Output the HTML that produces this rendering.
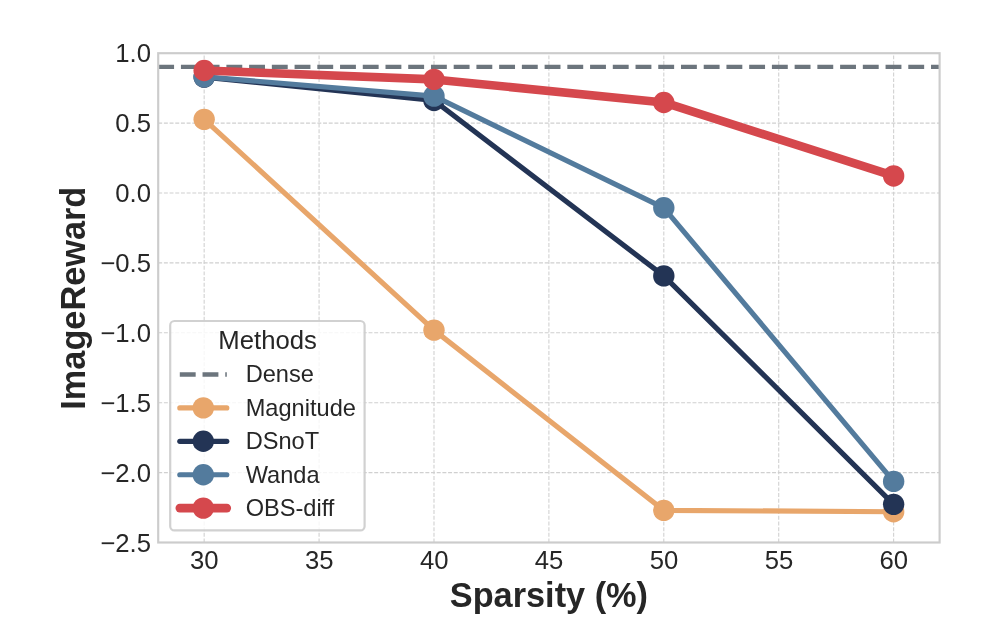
<!DOCTYPE html>
<html lang="en">
<head>
<meta charset="utf-8">
<title>ImageReward vs Sparsity</title>
<style>
html,body{margin:0;padding:0;background:#ffffff;}
body{width:986px;height:644px;overflow:hidden;}
svg{display:block;}
svg text{font-family:"Liberation Sans",Arial,Helvetica,sans-serif;fill:#262626;}
.tick{font-size:25.7px;}
.leg{font-size:23.6px;}
.legt{font-size:25.7px;}
.axl{font-size:34.3px;font-weight:bold;}
</style>
</head>
<body>
<svg width="986" height="644" viewBox="0 0 986 644">
<rect x="0" y="0" width="986" height="644" fill="#ffffff"/>
<g stroke="#d0d0d0" stroke-width="1.07" stroke-dasharray="3.968 1.716" fill="none">
<line x1="204.16" y1="542.50" x2="204.16" y2="53.20"/>
<line x1="319.08" y1="542.50" x2="319.08" y2="53.20"/>
<line x1="433.99" y1="542.50" x2="433.99" y2="53.20"/>
<line x1="548.90" y1="542.50" x2="548.90" y2="53.20"/>
<line x1="663.81" y1="542.50" x2="663.81" y2="53.20"/>
<line x1="778.72" y1="542.50" x2="778.72" y2="53.20"/>
<line x1="893.64" y1="542.50" x2="893.64" y2="53.20"/>
<line x1="158.20" y1="123.10" x2="939.60" y2="123.10"/>
<line x1="158.20" y1="193.00" x2="939.60" y2="193.00"/>
<line x1="158.20" y1="262.90" x2="939.60" y2="262.90"/>
<line x1="158.20" y1="332.80" x2="939.60" y2="332.80"/>
<line x1="158.20" y1="402.70" x2="939.60" y2="402.70"/>
<line x1="158.20" y1="472.60" x2="939.60" y2="472.60"/>
</g>
<line x1="158.20" y1="66.90" x2="939.60" y2="66.90" stroke="#6c757d" stroke-width="4.29" stroke-dasharray="15.87 6.86"/>
<g fill="#e8a66b" stroke="none">
<polyline points="204.16,119.33 433.99,330.14 663.81,510.35 893.64,511.74" fill="none" stroke="#e8a66b" stroke-width="5.15" stroke-linecap="round" stroke-linejoin="round"/>
<circle cx="204.16" cy="119.33" r="10.70"/>
<circle cx="433.99" cy="330.14" r="10.70"/>
<circle cx="663.81" cy="510.35" r="10.70"/>
<circle cx="893.64" cy="511.74" r="10.70"/>
</g>
<g fill="#233455" stroke="none">
<polyline points="204.16,77.11 433.99,100.45 663.81,275.90 893.64,504.33" fill="none" stroke="#233455" stroke-width="5.15" stroke-linecap="round" stroke-linejoin="round"/>
<circle cx="204.16" cy="77.11" r="10.70"/>
<circle cx="433.99" cy="100.45" r="10.70"/>
<circle cx="663.81" cy="275.90" r="10.70"/>
<circle cx="893.64" cy="504.33" r="10.70"/>
</g>
<g fill="#537b9d" stroke="none">
<polyline points="204.16,76.83 433.99,96.12 663.81,207.82 893.64,481.41" fill="none" stroke="#537b9d" stroke-width="5.15" stroke-linecap="round" stroke-linejoin="round"/>
<circle cx="204.16" cy="76.83" r="10.70"/>
<circle cx="433.99" cy="96.12" r="10.70"/>
<circle cx="663.81" cy="207.82" r="10.70"/>
<circle cx="893.64" cy="481.41" r="10.70"/>
</g>
<g fill="#d5484d" stroke="none">
<polyline points="204.16,70.54 433.99,79.40 663.81,102.45 893.64,175.94" fill="none" stroke="#d5484d" stroke-width="8.58" stroke-linecap="round" stroke-linejoin="round"/>
<circle cx="204.16" cy="70.54" r="10.70"/>
<circle cx="433.99" cy="79.40" r="10.70"/>
<circle cx="663.81" cy="102.45" r="10.70"/>
<circle cx="893.64" cy="175.94" r="10.70"/>
</g>
<rect x="158.20" y="53.20" width="781.40" height="489.30" fill="none" stroke="#cccccc" stroke-width="2.15"/>
<g class="tick" text-anchor="end">
<text x="151.0" y="62.45">1.0</text>
<text x="151.0" y="132.35">0.5</text>
<text x="151.0" y="202.25">0.0</text>
<text x="151.0" y="272.15">−0.5</text>
<text x="151.0" y="342.05">−1.0</text>
<text x="151.0" y="411.95">−1.5</text>
<text x="151.0" y="481.85">−2.0</text>
<text x="151.0" y="551.75">−2.5</text>
</g>
<g class="tick" text-anchor="middle">
<text x="204.36" y="568.6">30</text>
<text x="319.28" y="568.6">35</text>
<text x="434.19" y="568.6">40</text>
<text x="549.10" y="568.6">45</text>
<text x="664.01" y="568.6">50</text>
<text x="778.92" y="568.6">55</text>
<text x="893.84" y="568.6">60</text>
</g>
<text class="axl" text-anchor="middle" x="548.9" y="607.0">Sparsity (%)</text>
<text class="axl" text-anchor="middle" transform="translate(84.6 298.2) rotate(-90)">ImageReward</text>
<rect x="170.20" y="321.00" width="194.40" height="209.40" rx="4.2" ry="4.2" fill="#ffffff" fill-opacity="0.8" stroke="#cccccc" stroke-opacity="0.9" stroke-width="2.2"/>
<text class="legt" text-anchor="middle" x="267.6" y="348.8">Methods</text>
<line x1="179.80" y1="374.50" x2="226.80" y2="374.50" stroke="#6c757d" stroke-width="4.29" stroke-dasharray="15.87 6.86"/>
<line x1="179.80" y1="407.90" x2="226.80" y2="407.90" stroke="#e8a66b" stroke-width="5.15" stroke-linecap="round"/>
<circle cx="203.30" cy="407.90" r="10.70" fill="#e8a66b"/>
<line x1="179.80" y1="441.30" x2="226.80" y2="441.30" stroke="#233455" stroke-width="5.15" stroke-linecap="round"/>
<circle cx="203.30" cy="441.30" r="10.70" fill="#233455"/>
<line x1="179.80" y1="474.70" x2="226.80" y2="474.70" stroke="#537b9d" stroke-width="5.15" stroke-linecap="round"/>
<circle cx="203.30" cy="474.70" r="10.70" fill="#537b9d"/>
<line x1="179.80" y1="508.10" x2="226.80" y2="508.10" stroke="#d5484d" stroke-width="8.58" stroke-linecap="round"/>
<circle cx="203.30" cy="508.10" r="10.70" fill="#d5484d"/>
<g class="leg">
<text x="245.7" y="382.40">Dense</text>
<text x="245.7" y="415.80">Magnitude</text>
<text x="245.7" y="449.20">DSnoT</text>
<text x="245.7" y="482.60">Wanda</text>
<text x="245.7" y="516.00">OBS-diff</text>
</g>
</svg>
</body>
</html>
